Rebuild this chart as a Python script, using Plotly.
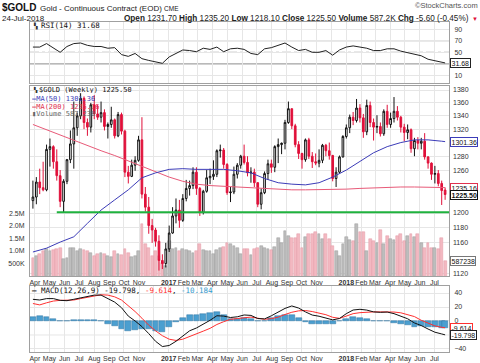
import numpy as np
import pandas as pd
import plotly.graph_objects as go

# ---------------- data ----------------
week_start = "2016-03-28"
n_weeks = 122

opens = [1217,1222,1243,1235,1232,1290,1294,1272,1252,1216,
         1244,1275,1298,1322,1340,1367,1330,1323,1357,1343,
         1338,1345,1324,1327,1334,1310,1342,1317,1257,1251,
         1267,1274,1304,1226,1208,1183,1177,1162,1137,1133,
         1152,1173,1196,1204,1190,1220,1234,1238,1257,1234,
         1201,1230,1249,1251,1254,1288,1289,1268,1228,1229,
         1254,1267,1280,1271,1256,1257,1242,1212,1228,1255,
         1269,1264,1294,1297,1299,1330,1351,1325,1297,1284,
         1275,1304,1280,1272,1270,1274,1296,1288,1281,1248,
         1257,1279,1309,1322,1338,1333,1352,1337,1316,1356,
         1330,1323,1324,1313,1347,1327,1336,1347,1338,1323,
         1315,1319,1291,1303,1299,1302,1279,1270,1254,1255,
         1241,1231.7]
highs = [1245,1250,1262,1272,1297,1306,1296,1290,1260,1247,
         1276,1318,1362,1345,1375,1370,1336,1360,1372,1357,
         1362,1350,1330,1354,1336,1346,1345,1319,1266,1275,
         1280,1310,1338,1236,1222,1192,1180,1170,1145,1160,
         1183,1208,1220,1218,1226,1246,1245,1264,1264,1236,
         1232,1260,1262,1274,1290,1297,1292,1270,1236,1265,
         1270,1282,1297,1280,1264,1262,1243,1234,1258,1275,
         1275,1296,1306,1300,1334,1362,1351,1328,1302,1285,
         1306,1307,1286,1284,1290,1298,1298,1300,1282,1264,
         1281,1311,1327,1342,1346,1366,1358,1343,1365,1362,
         1336,1341,1330,1350,1357,1345,1369,1355,1340,1328,
         1327,1321,1307,1308,1307,1314,1280,1271,1266,1260,
         1245,1235.2]
lows = [1206,1212,1226,1230,1230,1265,1262,1245,1208,1200,
        1240,1270,1262,1310,1335,1320,1310,1315,1335,1334,
        1330,1318,1306,1322,1306,1308,1312,1250,1241,1250,
        1259,1272,1220,1202,1172,1160,1155,1124,1126,1128,
        1148,1172,1186,1180,1188,1216,1224,1233,1225,1196,
        1198,1228,1240,1246,1250,1278,1262,1225,1215,1226,
        1248,1262,1268,1251,1242,1236,1208,1205,1226,1246,
        1256,1257,1270,1283,1290,1328,1320,1293,1276,1262,
        1272,1276,1263,1267,1264,1270,1280,1275,1244,1236,
        1255,1278,1306,1314,1326,1330,1330,1307,1311,1323,
        1303,1314,1309,1310,1322,1322,1330,1333,1315,1302,
        1305,1285,1280,1290,1290,1275,1262,1246,1241,1237,
        1211,1218.1]
closes = [1222,1243,1235,1232,1290,1294,1272,1252,1216,1244,
          1275,1298,1322,1340,1367,1330,1323,1357,1343,1338,
          1345,1324,1327,1334,1310,1342,1317,1257,1251,1267,
          1274,1304,1226,1208,1183,1177,1162,1137,1133,1152,
          1173,1196,1204,1190,1220,1234,1238,1257,1234,1201,
          1230,1249,1251,1254,1288,1289,1268,1228,1229,1254,
          1267,1280,1271,1256,1257,1242,1212,1228,1255,1269,
          1264,1294,1297,1299,1330,1351,1325,1297,1284,1275,
          1304,1280,1272,1270,1274,1296,1288,1281,1248,1257,
          1279,1309,1322,1338,1333,1352,1337,1316,1356,1330,
          1323,1324,1313,1347,1327,1336,1347,1338,1323,1315,
          1319,1291,1303,1299,1302,1279,1270,1254,1255,1241,
          1231,1225.5]
volume_m = [0.73,0.80,0.87,1.00,1.07,1.00,1.03,1.07,1.11,0.67,
            0.73,1.13,1.13,1.00,1.07,1.03,1.00,0.93,0.80,0.87,
            0.93,0.89,0.80,0.76,1.00,0.87,0.83,1.07,0.93,0.76,
            0.80,1.00,2.07,1.27,1.13,0.80,1.00,0.80,0.53,0.40,
            1.40,1.07,1.13,1.00,1.07,1.03,1.00,0.93,1.00,1.29,
            1.03,1.00,1.00,0.89,1.03,1.13,1.16,1.33,1.27,1.20,
            1.13,
            0.87,1.07,1.07,0.84,1.07,1.11,1.20,1.13,1.07,1.03,
            1.16,1.51,1.33,1.80,1.60,1.53,1.53,1.69,1.13,1.56,
            1.67,1.67,1.77,1.67,1.47,1.67,1.47,1.20,1.00,0.80,
            1.27,1.56,1.43,1.40,2.07,1.77,1.77,1.00,1.47,1.40,
            1.33,1.83,1.27,1.60,1.47,1.43,1.61,1.67,1.40,1.60,
            1.69,1.56,1.67,1.33,1.13,1.33,1.13,1.13,1.07,1.51,
            0.587238]

# moving averages, read every 4th week (+ last week)
ma_step = 4
ma50 = [1148,1153,1161,1168,1186,1204,1218,1232,1249,1256,
        1261,1262,1261,1261,1261,1259,1256,1248,1242,1240,
        1239,1242,1250,1260,1272,1285,1294,1300,1304,1304,
        1302,1301.36]
ma200 = [1327,1319,1312,1304,1296,1288,1281,1273,1265,1258,
         1250,1244,1240,1238,1237,1236,1235,1233,1232,1232,
         1232,1232,1232,1233,1234,1235,1236,1236,1236,1236,
         1235.5,1235.16]

# indicators, read every 2nd week (+ last week)
ind_step = 2
rsi14 = [59,59,65,58,50,60,65,66,62,60,
         60,57,58,46,43,48,39,36,33,31,
         42,48,54,53,51,57,55,59,51,56,
         57,55,48,46,56,58,62,66,59,53,
         55,50,50,53,45,54,59,61,59,57,
         53,53,56,56,52,49,47,44,38,35.5,
         33,31.68]
macd_line = [31,30,32,32,29.5,29,31,33,35,37,
             37,32,27,19,7,0,-8,-18,-29,-36.5,
             -35,-29,-21,-14,-10,-5,1,7.5,7,5,
             6,8.6,8,3.5,3,7.5,12.5,18,21.5,18.5,
             13,8.5,6.8,4,1.6,3.6,10.5,15.7,16.7,15.6,
             13,12.4,12.8,10.5,7,3.2,-2.8,-6.5,-11.5,-16,
             -18.5,-19.798]
macd_signal = [25,23,26,28.5,29.5,29.5,30,32,34,36,
               37.5,37,34.5,30,22,13.5,4,-6,-14,-21,
               -26,-27.8,-26,-22.5,-18,-14.5,-10.5,-5,-1,2.4,
               3.5,4.2,5.6,4,2.4,3.4,5.5,9.3,12.5,14.5,
               15,13.5,11.2,9,5.3,3.8,7,10.5,11.9,12.9,
               13,13,13,12.8,11.7,9,6.3,1,-2.7,-7,
               -9,-9.614]

support_level = 1201
support_start = "2016-05-16"
support_end = "2018-07-31"

month_ticks = pd.date_range("2016-04-01", "2018-07-01", freq="MS")
price_ticks = [1120, 1160, 1180, 1200, 1260, 1280, 1320, 1340, 1360, 1380]
rsi_ticks = [10, 50, 70, 90]
macd_ticks = [-40, 0, 20, 40]

# ---------------- derived ----------------
weeks = pd.date_range(week_start, periods=n_weeks, freq="7D")
def sampled(step):
    idx = list(range(0, n_weeks - 1, step)) + [n_weeks - 1]
    return weeks[idx]
ma_dates = sampled(ma_step)
ind_dates = sampled(ind_step)
macd_hist = np.array(macd_line) - np.array(macd_signal)

tick_text = []
for d in month_ticks:
    if d.month == 1:
        tick_text.append(f"<b>{d.year}</b>")
    elif d.month == 12:
        tick_text.append("")
    else:
        tick_text.append(d.strftime("%b"))

# ---------------- geometry helpers (layout only) ----------------
W, H = 480, 363
ML, MR, MT, MB = 30, 31, 22, 11
def fx(px):
    return (px - ML) / (W - ML - MR)
def fy(py):
    return (H - MB - py) / (H - MT - MB)

RED = "#e0103a"
GRID = "#e6e6e6"
FRAME = "#a0a0a0"
FONT = "Liberation Sans, Arial, sans-serif"
MONO = "DejaVu Sans Mono, monospace"

fig = go.Figure()

# RSI
fig.add_trace(go.Scatter(x=ind_dates, y=rsi14, mode="lines",
                         line=dict(color="#222", width=1), xaxis="x3", yaxis="y3"))

# volume
up = [i > 0 and closes[i] >= closes[i - 1] for i in range(n_weeks)]
vol_fill = ["#bdbdbd" if u else "#f3b8c1" for u in up]
vol_edge = ["#9a9a9a" if u else "#e59aa6" for u in up]
fig.add_trace(go.Bar(x=weeks, y=np.array(volume_m) * 1e6,
                     width=0.82 * 7 * 86400000,
                     marker=dict(color=vol_fill, line=dict(color=vol_edge, width=0.5)),
                     xaxis="x2", yaxis="y2"))

# candles
fig.add_trace(go.Candlestick(x=weeks, open=opens, high=highs, low=lows, close=closes,
                             increasing=dict(line=dict(color="#111", width=1), fillcolor="white"),
                             decreasing=dict(line=dict(color=RED, width=1), fillcolor=RED),
                             whiskerwidth=0, xaxis="x2", yaxis="y4"))

# moving averages and support
fig.add_trace(go.Scatter(x=ma_dates, y=ma200, mode="lines",
                         line=dict(color="#e85a78", width=1), xaxis="x2", yaxis="y4"))
fig.add_trace(go.Scatter(x=ma_dates, y=ma50, mode="lines",
                         line=dict(color="#3c3cb8", width=1), xaxis="x2", yaxis="y4"))
fig.add_trace(go.Scatter(x=[support_start, support_end], y=[support_level, support_level],
                         mode="lines", line=dict(color="#1fb23e", width=2),
                         xaxis="x2", yaxis="y4"))

# MACD
fig.add_trace(go.Bar(x=ind_dates, y=macd_hist, width=0.85 * 14 * 86400000,
                     marker=dict(color="#4b9fd0", line=dict(color="#2f74a3", width=0.5)),
                     xaxis="x", yaxis="y"))
fig.add_trace(go.Scatter(x=ind_dates, y=macd_signal, mode="lines",
                         line=dict(color="#ff3030", width=1), xaxis="x", yaxis="y"))
fig.add_trace(go.Scatter(x=ind_dates, y=macd_line, mode="lines",
                         line=dict(color="#111", width=1), xaxis="x", yaxis="y"))

xrange = ["2016-03-22", "2018-07-31"]
xcommon = dict(type="date", range=xrange, tickmode="array", tickvals=month_ticks,
               ticktext=tick_text, tickangle=0, showgrid=True, gridcolor=GRID, gridwidth=1,
               showline=True, linecolor=FRAME, mirror=True, ticks="", automargin=False,
               tickfont=dict(size=7, color="#333", family=FONT),
               rangeslider=dict(visible=False), zeroline=False)
ycommon = dict(showline=True, linecolor=FRAME, mirror=True, ticks="", automargin=False,
               tickfont=dict(size=7, color="#333", family=FONT),
               showgrid=True, gridcolor=GRID, zeroline=False, ticklabelstandoff=3)

p_top, p_bot = 1386.3, 1117.1
fig.update_layout(
    width=W, height=H, margin=dict(l=ML, r=MR, t=MT, b=MB),
    paper_bgcolor="white", plot_bgcolor="white", showlegend=False,
    font=dict(family=FONT, size=7, color="#333"), bargap=0,
    xaxis=dict(anchor="y", domain=[0, 1], **xcommon),
    xaxis2=dict(anchor="y2", domain=[0, 1], matches="x", **xcommon),
    xaxis3=dict(anchor="y3", domain=[0, 1], matches="x", showticklabels=False,
                **{k: v for k, v in xcommon.items()}),
    yaxis=dict(anchor="x", domain=[0, fy(286)], range=[-44.3, 50], side="right",
               tickvals=macd_ticks, **ycommon),
    yaxis2=dict(anchor="x2", domain=[fy(276), fy(86)], range=[0, 7.6e6], side="left",
                tickvals=[5e5, 1e6, 1.5e6, 2e6, 2.5e6],
                ticktext=["500K", "1.0M", "1.5M", "2.0M", "2.5M"],
                **{**ycommon, "showgrid": False}),
    yaxis3=dict(anchor="x3", domain=[fy(83), 1], range=[-2.9, 102.2], side="right",
                tickvals=rsi_ticks, **ycommon),
    yaxis4=dict(anchor="x2", overlaying="y2", side="right", type="log",
                range=[np.log10(p_bot), np.log10(p_top)],
                tickvals=price_ticks, ticktext=[str(v) for v in price_ticks],
                **{**ycommon, "showline": False}),
)
fig.update_xaxes(rangeslider_visible=False)

# horizontal gridlines whose labels are hidden behind value boxes
shapes = []
for lvl, yref in [(1140, "y4"), (1220, "y4"), (1240, "y4"), (1300, "y4")]:
    shapes.append(dict(type="line", xref="paper", x0=0, x1=1, yref=yref,
                       y0=np.log10(lvl), y1=np.log10(lvl),
                       line=dict(color=GRID, width=1), layer="below"))
shapes.append(dict(type="line", xref="paper", x0=0, x1=1, yref="y", y0=-20, y1=-20,
                   line=dict(color=GRID, width=1), layer="below"))
# RSI reference lines
for lvl, dash, col in [(70, "solid", "#8c8c8c"), (30, "solid", "#8c8c8c"), (50, "dashdot", "#8c8c8c")]:
    shapes.append(dict(type="line", xref="paper", x0=0, x1=1, yref="y3", y0=lvl, y1=lvl,
                       line=dict(color=col, width=1, dash=dash), layer="below"))
fig.update_layout(shapes=shapes)

ann = []
def txt(text, px, py, size=7.5, color="#111", family=FONT, xanchor="left", yanchor="middle", height=None):
    a = dict(text=text, xref="paper", yref="paper", x=fx(px), y=fy(py),
             xanchor=xanchor, yanchor=yanchor, showarrow=False, borderpad=0,
             font=dict(size=size, color=color, family=family))
    if height:
        a["height"] = height
    ann.append(a)

# header
txt("<b>$GOLD</b>", 1, 8, size=10)
txt("Gold - Continuous Contract (EOD) <span style='font-size:6.5px'>CME</span>", 39, 8.5, size=8, color="#222")
txt("24-Jul-2018", 1, 18.5, size=8, color="#222")
txt("<b>Open</b> 1231.70 <b>High</b> 1235.20 <b>Low</b> 1218.10 <b>Close</b> 1225.50 "
    "<b>Volume</b> 587.2K <b>Chg</b> -5.60 (-0.45%)", 470, 18.5, size=8.2, color="#222", xanchor="right")
txt("▼", 471, 18.5, size=6, color=RED)
txt("©StockCharts.com", 479, 5, size=7.5, color="#555", xanchor="right")

# panel legends
txt("RSI(14) 31.68", 40, 26, size=7.5, family=MONO)
txt("▚", 32, 26, size=6, color="#333", family=MONO)
txt("▚", 32, 90.5, size=5.5, color="#333", family=MONO, height=6)
txt("$GOLD (Weekly) 1225.50", 38, 90.5, size=7, family=MONO, height=6)
txt("<b>—</b>MA(50) 1301.36", 31, 98.5, size=7, color="#3c3cb8", family=MONO, height=6)
txt("<b>—</b>MA(200) 1235.16", 31, 106.5, size=7, color="#e0304f", family=MONO, height=6)
txt("▮Volume 587,238", 31, 114.5, size=7, color="#666", family=MONO, height=6)
txt("<b>—</b> MACD(12,26,9) -19.798, <span style='color:#ff3030'>-9.614</span>, "
    "<span style='color:#3399cc'>-10.184</span>", 31, 290.5, size=7.5, family=MONO)

# right-edge value boxes
def box(text, yref, yval, border, color="#111"):
    ann.append(dict(text=text, xref="paper", x=1, xanchor="left", xshift=1,
                    yref=yref, y=yval, yanchor="middle", showarrow=False,
                    bgcolor="white", bordercolor=border, borderwidth=1, borderpad=0.5,
                    font=dict(size=7, color=color, family=FONT)))
box("31.68", "y3", 31.68, "#222")
box("1301.36", "y4", np.log10(1301.36), "#3c3cb8")
box("1235.16", "y4", np.log10(1235.16), "#e0304f")
box("<b>1225.50</b>", "y4", np.log10(1225.50), "#111")
box("587238", "y2", 587238, "#777")
box("-9.614", "y", -9.614, "#ff3030")
box("-19.798", "y", -19.798, "#222")

fig.update_layout(annotations=ann)
fig.write_html("out.html", config={"displayModeBar": False},
               post_script="document.body.style.margin='0';document.body.style.overflow='hidden';")
